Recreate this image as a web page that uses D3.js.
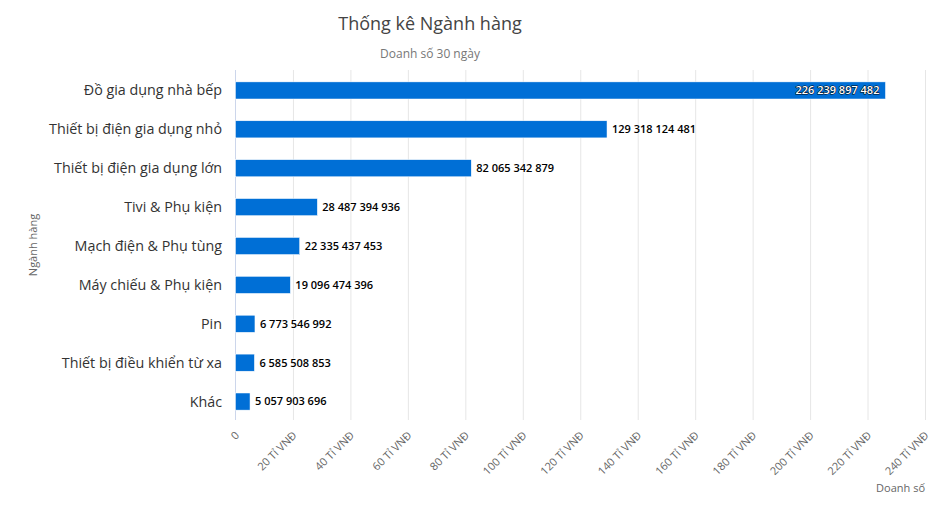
<!DOCTYPE html>
<html><head><meta charset="utf-8">
<script src="https://cdn.jsdelivr.net/npm/d3@7"></script>
<style>body{margin:0;background:#fff}svg{display:block;font-family:"Open Sans","Noto Sans",sans-serif}</style>
</head><body><svg id="c" width="943" height="511"></svg>
<script>
const categories = ["Đồ gia dụng nhà bếp","Thiết bị điện gia dụng nhỏ","Thiết bị điện gia dụng lớn","Tivi & Phụ kiện","Mạch điện & Phụ tùng","Máy chiếu & Phụ kiện","Pin","Thiết bị điều khiển từ xa","Khác"];
const values = [226239897482,129318124481,82065342879,28487394936,22335437453,19096474396,6773546992,6585508853,5057903696];
const tickValues = [0,20,40,60,80,100,120,140,160,180,200,220,240];
const tickLabels = ["0","20 Tỉ VNĐ","40 Tỉ VNĐ","60 Tỉ VNĐ","80 Tỉ VNĐ","100 Tỉ VNĐ","120 Tỉ VNĐ","140 Tỉ VNĐ","160 Tỉ VNĐ","180 Tỉ VNĐ","200 Tỉ VNĐ","220 Tỉ VNĐ","240 Tỉ VNĐ"];

const svg = d3.select("#c");
const L=235.5, R=925, T=70, B=420;
const x = d3.scaleLinear().domain([0,240e9]).range([L,R]);
const y = d3.scaleBand().domain(categories).range([T+1,B+1]).paddingInner(0.56).paddingOuter(0.28);
const fmt = v => d3.format(",")(v).replace(/,/g," ");

svg.append("text").attr("x",430).attr("y",30).attr("text-anchor","middle").attr("font-size",18).attr("fill","#444").text("Thống kê Ngành hàng");
svg.append("text").attr("x",430).attr("y",58).attr("text-anchor","middle").attr("font-size",12).attr("fill","#777").text("Doanh số 30 ngày");

// grid
svg.append("g").selectAll("line").data(tickValues.slice(1)).join("line")
  .attr("x1",d=>x(d*1e9)+0.5).attr("x2",d=>x(d*1e9)+0.5).attr("y1",T).attr("y2",B)
  .attr("stroke","#e6e6e6");
svg.append("line").attr("x1",L).attr("x2",L).attr("y1",T).attr("y2",B).attr("stroke","#ccd6eb");

// x axis
const xa = svg.append("g").attr("transform",`translate(0,${B})`)
  .call(d3.axisBottom(x).tickValues(tickValues.map(d=>d*1e9)).tickFormat((d,i)=>tickLabels[i]).tickSize(0));
xa.select(".domain").remove();
xa.selectAll("text").attr("font-size",11).attr("fill","#666").attr("font-family","Open Sans")
  .attr("text-anchor","end").attr("dy",0).attr("y",0)
  .attr("transform","translate(4,16) rotate(-45)");

// y axis labels
svg.append("g").selectAll("text").data(categories).join("text")
  .attr("x",222).attr("y",d=>y(d)+y.bandwidth()/2).attr("dy","0.35em")
  .attr("text-anchor","end").attr("font-size",14.3).attr("fill","#333").text(d=>d);

// bars
svg.append("g").selectAll("rect").data(values).join("rect")
  .attr("x",L).attr("y",(d,i)=>y(categories[i])).attr("width",d=>x(d)-L).attr("height",y.bandwidth())
  .attr("fill","#006fd6").attr("stroke","#fff").attr("stroke-width",0.5);

// labels
svg.append("g").selectAll("text").data(values).join("text")
  .attr("x",(d,i)=>i===0? x(d)-6 : x(d)+5)
  .attr("y",(d,i)=>y(categories[i])+y.bandwidth()/2).attr("dy","0.35em")
  .attr("text-anchor",(d,i)=>i===0?"end":"start")
  .attr("font-size",11).attr("font-weight",600)
  .attr("fill",(d,i)=>i===0?"#fff":"#000")
  .attr("stroke",(d,i)=>i===0?"#000":"#fff").attr("stroke-width",1).attr("paint-order","stroke")
  .text(d=>fmt(d));

svg.append("text").attr("transform","translate(37,245) rotate(-90)").attr("text-anchor","middle")
  .attr("font-size",11).attr("fill","#666").text("Ngành hàng");
svg.append("text").attr("x",925).attr("y",492).attr("text-anchor","end")
  .attr("font-size",11).attr("fill","#666").text("Doanh số");
</script></body></html>
